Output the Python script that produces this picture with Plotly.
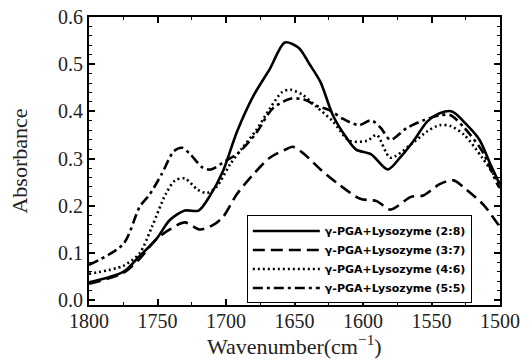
import plotly.graph_objects as go

# Wavenumber (cm^-1) and absorbance for each sample
w_28 = [1800, 1775, 1763, 1751, 1741, 1730, 1720, 1712, 1702, 1692, 1680, 1668, 1657, 1647, 1639,
        1631, 1622, 1612, 1605, 1594, 1582, 1573, 1563, 1553, 1544, 1535, 1524, 1515, 1507, 1500]
a_28 = [0.038, 0.060, 0.094, 0.129, 0.170, 0.190, 0.190, 0.220, 0.275, 0.357, 0.433, 0.490, 0.546, 0.535, 0.500,
        0.462, 0.392, 0.344, 0.319, 0.309, 0.277, 0.302, 0.338, 0.379, 0.396, 0.400, 0.371, 0.340, 0.288, 0.245]

w_37 = [1800, 1775, 1763, 1751, 1741, 1730, 1719, 1709, 1702, 1692, 1680, 1668, 1656, 1651, 1643,
        1631, 1617, 1602, 1590, 1580, 1565, 1556, 1544, 1534, 1524, 1512, 1500]
a_37 = [0.035, 0.058, 0.088, 0.129, 0.150, 0.165, 0.150, 0.160, 0.177, 0.225, 0.267, 0.302, 0.320, 0.325, 0.310,
        0.277, 0.244, 0.215, 0.210, 0.192, 0.219, 0.222, 0.246, 0.254, 0.233, 0.202, 0.155]

w_46 = [1800, 1775, 1763, 1754, 1744, 1737, 1730, 1721, 1714, 1707, 1697, 1688, 1678, 1668, 1659, 1653,
        1644, 1634, 1622, 1610, 1597, 1590, 1580, 1565, 1553, 1544, 1536, 1526, 1513, 1502, 1500]
a_46 = [0.056, 0.073, 0.100, 0.156, 0.225, 0.254, 0.258, 0.235, 0.227, 0.240, 0.288, 0.323, 0.360, 0.406, 0.441, 0.446,
        0.435, 0.410, 0.379, 0.338, 0.338, 0.350, 0.302, 0.330, 0.358, 0.371, 0.369, 0.350, 0.302, 0.254, 0.240]

w_55 = [1800, 1775, 1763, 1756, 1747, 1738, 1732, 1726, 1717, 1711, 1700, 1691, 1678, 1666, 1653, 1643,
        1634, 1624, 1615, 1603, 1594, 1587, 1580, 1568, 1556, 1544, 1536, 1526, 1513, 1502, 1500]
a_55 = [0.075, 0.119, 0.198, 0.223, 0.267, 0.316, 0.323, 0.309, 0.281, 0.277, 0.296, 0.312, 0.354, 0.406, 0.427, 0.425,
        0.412, 0.402, 0.385, 0.371, 0.381, 0.365, 0.340, 0.365, 0.381, 0.392, 0.392, 0.365, 0.316, 0.246, 0.238]

names = ["γ-PGA+Lysozyme (2:8)", "γ-PGA+Lysozyme (3:7)", "γ-PGA+Lysozyme (4:6)", "γ-PGA+Lysozyme (5:5)"]
x_ticks = [1800, 1750, 1700, 1650, 1600, 1550, 1500]
x_title = "Wavenumber(cm<sup>−1</sup>)"
y_title = "Absorbance"

fig = go.Figure()
series = [(w_28, a_28, "solid"), (w_37, a_37, "12px,6px"),
          (w_46, a_46, "2px,3px"), (w_55, a_55, "10px,4px,3px,4px")]
for (wx, ay, dash), nm in zip(series, names):
    fig.add_trace(go.Scatter(x=wx, y=ay, mode="lines", name=nm,
                             line=dict(color="black", width=2.6, dash=dash, shape="spline", smoothing=0.8)))

tick_font = dict(family="Liberation Serif", size=20, color="#222")
title_font = dict(family="Liberation Serif", size=22, color="#222")
fig.update_layout(
    width=529, height=360,
    margin=dict(l=89, r=29, t=17, b=55),
    plot_bgcolor="white", paper_bgcolor="white",
    showlegend=True,
    legend=dict(x=0.384, y=0.311, xanchor="left", yanchor="top",
                bgcolor="white", bordercolor="black", borderwidth=1,
                font=dict(family="DejaVu Sans", size=11, color="black", weight="bold"),
                itemwidth=67, tracegroupgap=0),
    annotations=[dict(text=x_title, x=0.5, y=-0.139, xref="paper", yref="paper",
                      xanchor="center", yanchor="middle", showarrow=False, font=title_font)],
)
fig.update_xaxes(range=[1800, 1500], tickvals=x_ticks, automargin=False,
                 ticks="inside", ticklen=6, tickwidth=1.5, tickcolor="black", ticklabelstandoff=-3,
                 minor=dict(dtick=25, ticks="inside", ticklen=3, tickcolor="black", tickwidth=1),
                 showline=True, linewidth=2, linecolor="black", mirror="allticks",
                 showgrid=False, zeroline=False, tickfont=tick_font)
fig.update_yaxes(range=[-0.01, 0.6], tickvals=[0, 0.1, 0.2, 0.3, 0.4, 0.5, 0.6], tickformat=".1f",
                 automargin=False,
                 ticks="inside", ticklen=6, tickwidth=1.5, tickcolor="black",
                 minor=dict(tick0=0, dtick=0.02, ticks="inside", ticklen=3, tickcolor="black", tickwidth=1),
                 showline=True, linewidth=2, linecolor="black", mirror="allticks",
                 showgrid=False, zeroline=False, tickfont=tick_font,
                 title=dict(text=y_title, font=title_font, standoff=24))

fig.write_html("out.html")
